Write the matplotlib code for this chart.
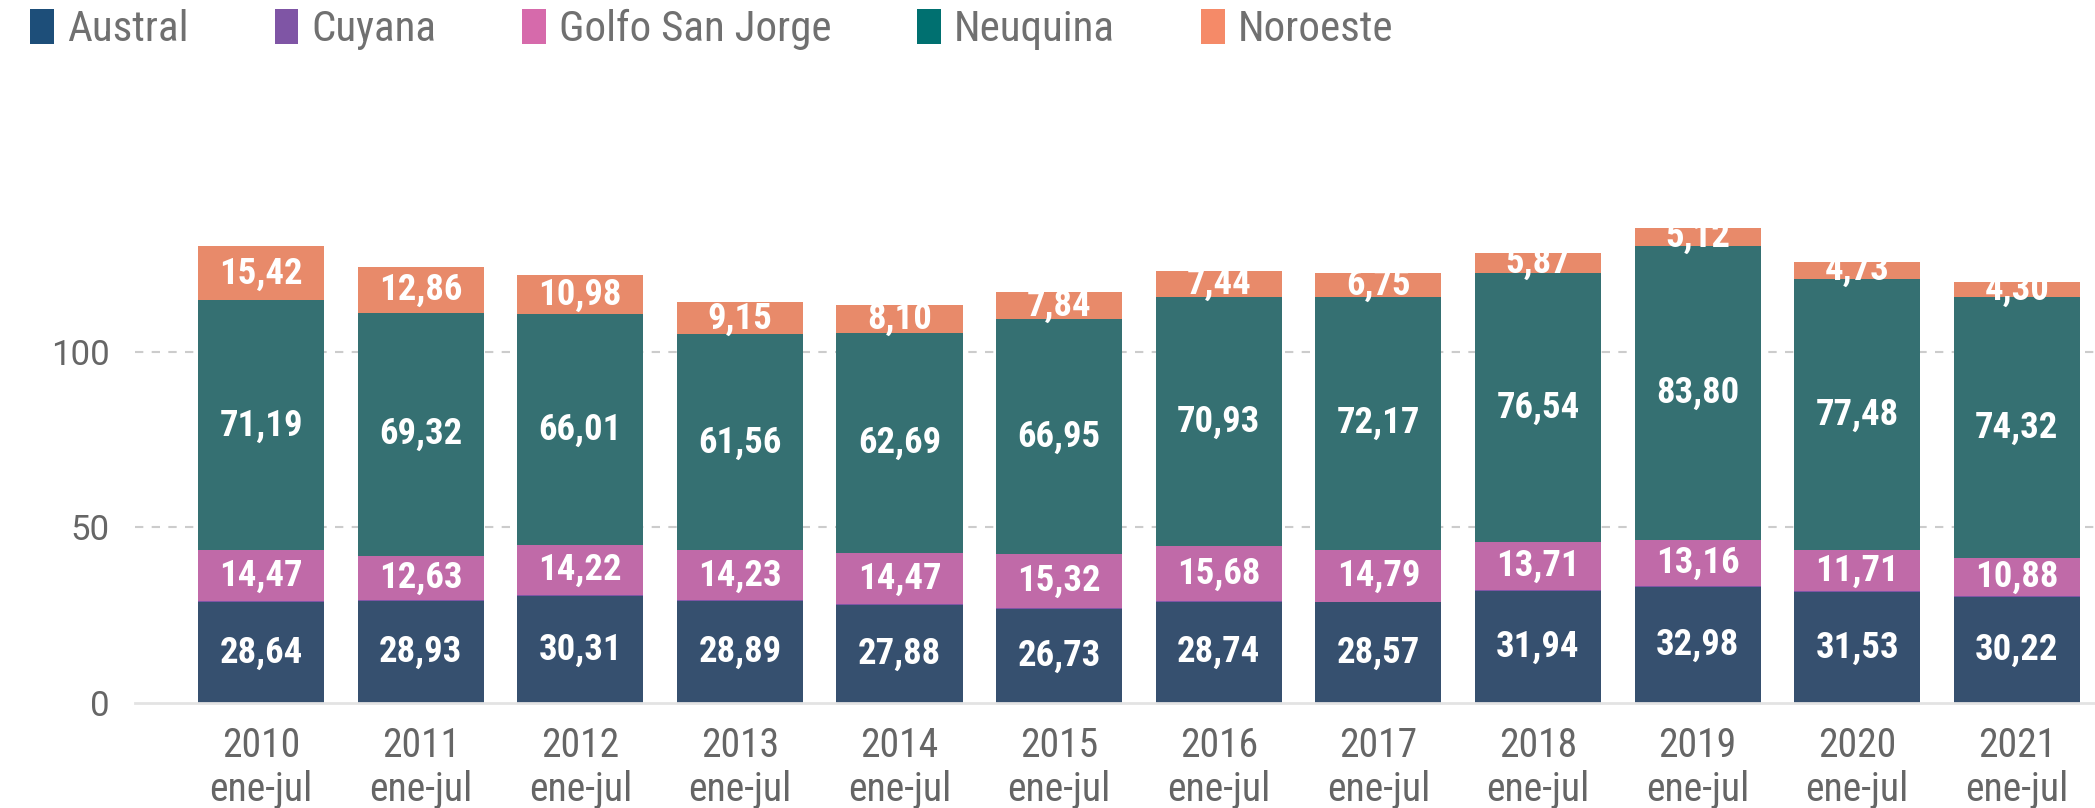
import matplotlib
matplotlib.use("Agg")
import matplotlib.pyplot as plt
from matplotlib.patches import Patch, Rectangle
import numpy as np

years = ["2010", "2011", "2012", "2013", "2014", "2015", "2016", "2017", "2018", "2019", "2020", "2021"]
period = "ene-jul"
austral = [28.64, 28.93, 30.31, 28.89, 27.88, 26.73, 28.74, 28.57, 31.94, 32.98, 31.53, 30.22]
cuyana = [0.35, 0.33, 0.32, 0.30, 0.28, 0.27, 0.25, 0.24, 0.22, 0.20, 0.18, 0.16]
golfo = [14.47, 12.63, 14.22, 14.23, 14.47, 15.32, 15.68, 14.79, 13.71, 13.16, 11.71, 10.88]
neuquina = [71.19, 69.32, 66.01, 61.56, 62.69, 66.95, 70.93, 72.17, 76.54, 83.80, 77.48, 74.32]
noroeste = [15.42, 12.86, 10.98, 9.15, 8.10, 7.84, 7.44, 6.75, 5.87, 5.12, 4.73, 4.30]

series_names = ["Austral", "Cuyana", "Golfo San Jorge", "Neuquina", "Noroeste"]
series_vals = [austral, cuyana, golfo, neuquina, noroeste]
bar_colors = ["#36506f", "#7f55a5", "#c06aa8", "#357072", "#e88a6a"]
legend_colors = ["#1d4e79", "#7f55a5", "#d66aab", "#007070", "#f58a68"]
labelled = [True, False, True, True, True]

narrow = ["Roboto Condensed", "Liberation Sans Narrow", "DejaVu Sans Condensed", "DejaVu Sans"]
regular = ["Roboto", "DejaVu Sans"]

fig = plt.figure(figsize=(20.95, 8.08), dpi=100)
ax = fig.add_axes([135 / 2095, 1 - 702.7 / 808, 1 - 135 / 2095, (702.7 - 160) / 808])

x = np.arange(len(years))
width = 0.79
bottom = np.zeros(len(years))
totals = np.sum(np.array(series_vals), axis=0)

clip_rects = []
for i in range(len(years)):
    r = Rectangle((x[i] - width / 2, 0), width, totals[i], transform=ax.transData,
                  facecolor="none", edgecolor="none")
    ax.add_patch(r)
    clip_rects.append(r)

for name, vals, col, lab in zip(series_names, series_vals, bar_colors, labelled):
    vals = np.array(vals)
    ax.bar(x, vals, width, bottom=bottom, color=col, linewidth=0, zorder=3)
    if lab:
        for i in range(len(years)):
            t = ax.text(x[i], bottom[i] + vals[i] / 2, f"{vals[i]:.2f}".replace(".", ","),
                        ha="center", va="center", color="white", fontsize=26.5,
                        fontweight="bold", family=narrow, fontstretch="condensed", zorder=5)
            t.set_clip_path(clip_rects[i])
    bottom += vals

ax.set_xlim(-0.79, 11.49)
ax.set_ylim(0, 154.7)
ax.set_yticks([0, 50, 100])
ax.set_yticklabels(["0", "50", "100"], family=regular, fontsize=25, color="#666666")
ax.set_xticks(x)
ax.set_xticklabels([f"{y}\n{period}" for y in years], family=narrow, fontstretch="condensed",
                   fontsize=28.5, color="#666666", linespacing=1.15)
ax.tick_params(axis="both", length=0)
ax.tick_params(axis="x", pad=17)
ax.tick_params(axis="y", pad=18)

for s in ["top", "right", "left"]:
    ax.spines[s].set_visible(False)
ax.spines["bottom"].set_color("#e3e3e3")
ax.spines["bottom"].set_linewidth(2)
ax.spines["bottom"].set_zorder(4)

for yv in [50, 100]:
    ax.axhline(yv, color="#cccccc", linewidth=1.5, linestyle=(0, (4, 4)), zorder=1)

handles = [Patch(facecolor=c, edgecolor="none") for c in legend_colors]
leg = fig.legend(handles, series_names, loc="upper left", bbox_to_anchor=(-0.004, 1.037),
                 ncol=5, frameon=False, handlelength=0.55, handleheight=0.87,
                 handletextpad=0.3, columnspacing=2.0,
                 prop={"family": narrow, "size": 31, "stretch": "condensed"})
for t in leg.get_texts():
    t.set_color("#707070")

fig.savefig("out.png", dpi=100)
